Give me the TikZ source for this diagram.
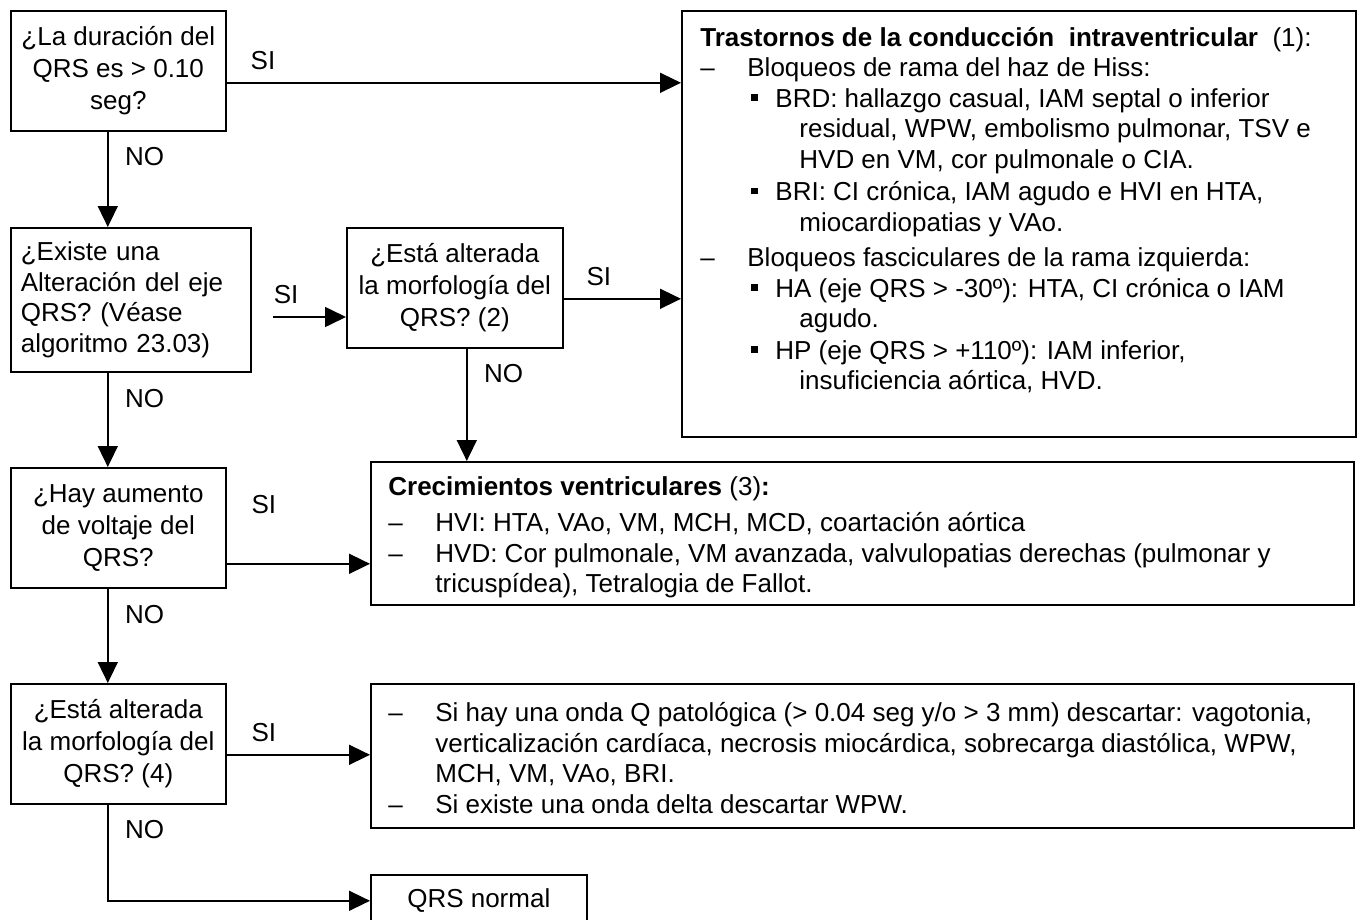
\documentclass[tikz,border=0pt]{standalone}
\usepackage{fontspec}
\setmainfont{Liberation Sans}
\usetikzlibrary{arrows.meta}

% marks for the lists
\newcommand{\guion}{\makebox[23.5pt][l]{–}}
\newcommand{\cuadro}{\hspace*{25.5pt}\makebox[12pt][l]{\rule[3.3pt]{3.2pt}{3.2pt}}}
\newcommand{\sigue}{\hspace*{49.5pt}}

\begin{document}
\begin{tikzpicture}[x=0.5pt, y=-0.5pt,
        font=\fontsize{13pt}{15.25pt}\selectfont,
        caja/.style={draw, line width=0.8pt, anchor=north west, inner sep=0pt},
        pregunta/.style={caja, align=center, minimum width=107.5pt, minimum height=60pt, font=\fontsize{13pt}{16pt}\selectfont},
        texto/.style={anchor=north west, inner sep=0pt, align=left},
        flecha/.style={line width=0.8pt, -{Triangle[length=10.5pt, width=10pt]}},
        si/.style={inner sep=0pt, above=6.3pt},
        no/.style={inner sep=0pt, right=8.2pt}]

        \useasboundingbox (0,0) rectangle (1359,920);
        \clip (0,0) rectangle (1359,920);

        % Draw the questions
        \node[pregunta] (duracion) at (10,10) {¿La duración del\\QRS es > 0.10\\seg?};
        \node[caja, align=left, inner xsep=5pt, text width=110pt, minimum height=72pt] (eje) at (10,227) {¿Existe una\\Alteración del eje\\QRS? (Véase\\algoritmo 23.03)};
        \node[pregunta, minimum width=108pt] (morfo) at (346,227) {¿Está alterada\\la morfología del\\QRS? (2)};
        \node[pregunta] (voltaje) at (10,467) {¿Hay aumento\\de voltaje del\\QRS?};
        \node[pregunta] (morfoB) at (10,683) {¿Está alterada\\la morfología del\\QRS? (4)};
        \node[caja, minimum width=108pt, minimum height=26pt] (normal) at (370,874) {QRS normal};

        % Draw the answer boxes
        \node[caja, minimum width=337pt, minimum height=213pt] (trast) at (681,10) {};
        \node[texto] (trastTxt) at ([xshift=9.5pt, yshift=-8.5pt]trast.north west) {%
            \textbf{Trastornos de la conducción\ \ intraventricular}\ \ (1):\\
            \guion Bloqueos de rama del haz de Hiss:\\
            \cuadro BRD: hallazgo casual, IAM septal o inferior\\
            \sigue residual, WPW, embolismo pulmonar, TSV e\\
            \sigue HVD en VM, cor pulmonale o CIA.\\[1pt]
            \cuadro BRI: CI crónica, IAM agudo e HVI en HTA,\\
            \sigue miocardiopatias y VAo.\\[2.5pt]
            \guion Bloqueos fasciculares de la rama izquierda:\\
            \cuadro HA (eje QRS > -30º): HTA, CI crónica o IAM\\
            \sigue agudo.\\[0.5pt]
            \cuadro HP (eje QRS > +110º): IAM inferior,\\
            \sigue insuficiencia aórtica, HVD.};
        \node[caja, minimum width=491.5pt, minimum height=71.5pt] (crec) at (370,461) {};
        \node[texto] (crecTxt) at ([xshift=9pt, yshift=-7.5pt]crec.north west) {%
            \textbf{Crecimientos ventriculares} (3)\textbf{:}\\[3pt]
            \guion HVI: HTA, VAo, VM, MCH, MCD, coartación aórtica\\
            \guion HVD: Cor pulmonale, VM avanzada, valvulopatias derechas (pulmonar y\\
            \hspace*{23.5pt}tricuspídea), Tetralogia de Fallot.};
        \node[caja, minimum width=491.5pt, minimum height=72pt] (ondaQ) at (370,683) {};
        \node[texto] (ondaQTxt) at ([xshift=9pt, yshift=-9.5pt]ondaQ.north west) {%
            \guion Si hay una onda Q patológica (> 0.04 seg y/o > 3 mm) descartar: vagotonia,\\
            \hspace*{23.5pt}verticalización cardíaca, necrosis miocárdica, sobrecarga diastólica, WPW,\\
            \hspace*{23.5pt}MCH, VM, VAo, BRI.\\
            \guion Si existe una onda delta descartar WPW.};

        % Draw the SI arrows
        \coordinate (siEje) at (273,317);
        \draw[flecha] ([yshift=-6pt]duracion.east) -- ([yshift=-6pt]duracion.east -| trast.west) node[si, pos=0.08] {SI};
        \draw[flecha] (siEje) -- (siEje -| morfo.west) node[si, pos=0.18] {SI};
        \draw[flecha] ([yshift=-5.5pt]morfo.east) -- ([yshift=-5.5pt]morfo.east -| trast.west) node[si, pos=0.3] {SI};
        \draw[flecha] ([yshift=-18pt]voltaje.east) -- ([yshift=-18pt]voltaje.east -| crec.west) node[si, pos=0.26, above=18.3pt] {SI};
        \draw[flecha] ([yshift=-5.5pt]morfoB.east) -- ([yshift=-5.5pt]morfoB.east -| ondaQ.west) node[si, pos=0.26] {SI};

        % Draw the NO arrows
        \draw[flecha] ([xshift=-5.25pt]duracion.south) -- ([xshift=-5.25pt]duracion.south |- eje.north) node[no, pos=0.26] {NO};
        \draw[flecha] ([xshift=6pt]morfo.south) -- ([xshift=6pt]morfo.south |- crec.north) node[no, pos=0.22] {NO};
        \draw[flecha] ([xshift=-11.5pt]eje.south) -- ([xshift=-11.5pt]eje.south |- voltaje.north) node[no, pos=0.27] {NO};
        \draw[flecha] ([xshift=-5.25pt]voltaje.south) -- ([xshift=-5.25pt]voltaje.south |- morfoB.north) node[no, pos=0.27] {NO};
        \draw[flecha] ([xshift=-5.25pt]morfoB.south) |- (normal.west) node[no, pos=0.13] {NO};

\end{tikzpicture}
\end{document}
